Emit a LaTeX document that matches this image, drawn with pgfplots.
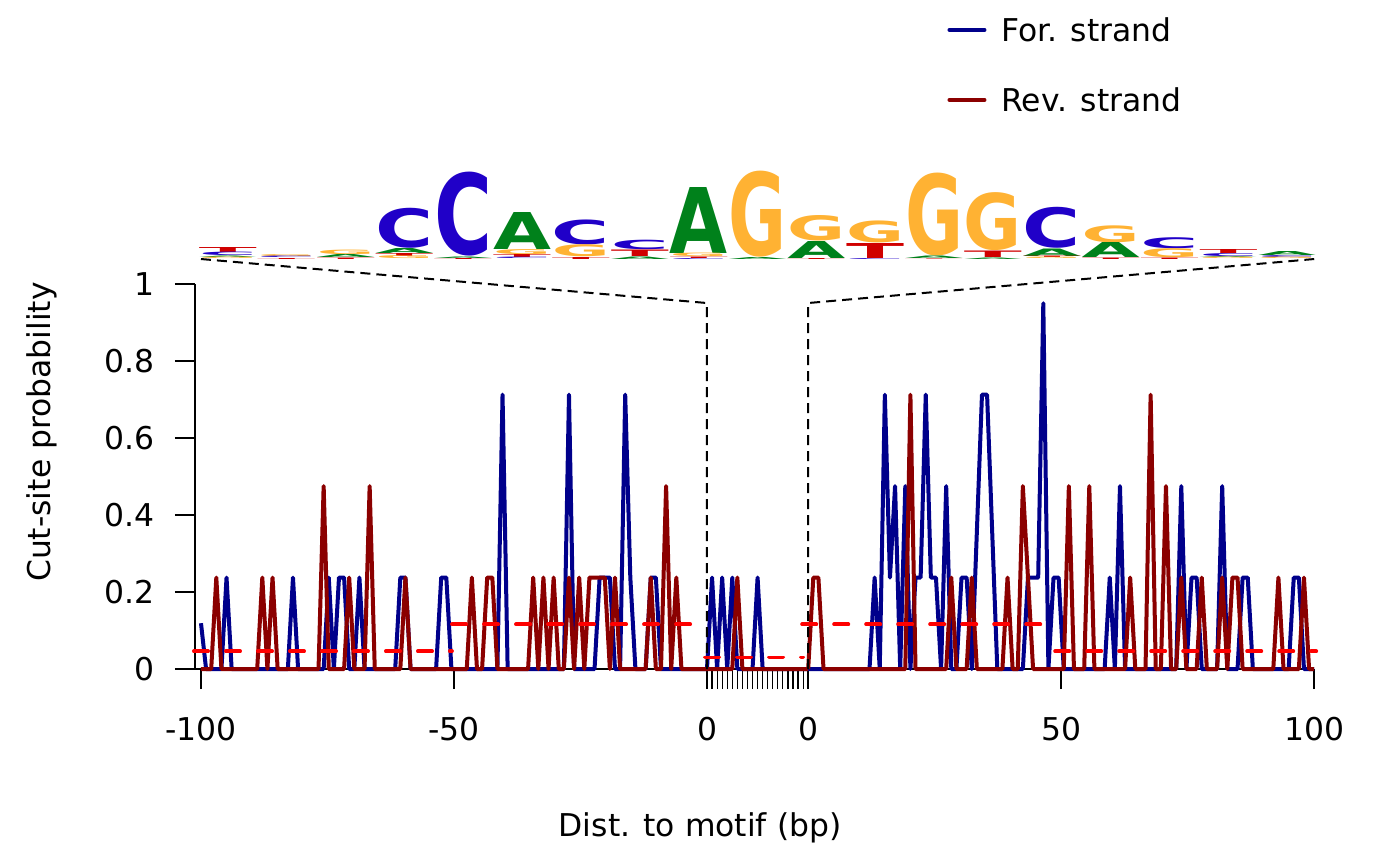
\documentclass[border=0pt]{standalone}
\usepackage{fontspec}
\setmainfont{DejaVu Sans}
\usepackage{graphicx}
\usepackage{pgfplots}
\usepackage{pgfplotstable}
\pgfplotsset{compat=1.18}
\definecolor{fwd}{RGB}{0,0,139}
\definecolor{rev}{RGB}{139,0,0}
\definecolor{meanred}{RGB}{255,0,0}
\definecolor{lA}{RGB}{0,129,27}
\definecolor{lC}{RGB}{32,0,200}
\definecolor{lG}{RGB}{255,178,51}
\definecolor{lT}{RGB}{208,0,0}
\newcommand{\lgl}[3]{\hbox{\resizebox*{29pt}{#2pt}{\textcolor{#1}{\bfseries #3}}}}
\newcommand{\lgA}[1]{\lgl{lA}{#1}{A}}
\newcommand{\lgC}[1]{\lgl{lC}{#1}{C}}
\newcommand{\lgG}[1]{\lgl{lG}{#1}{G}}
\newcommand{\lgT}[1]{\lgl{lT}{#1}{T}}
\newcommand{\logocol}[2]{\node[anchor=south, inner sep=0pt, outer sep=0pt] at (axis cs:#1,1.0649) {\vbox{\offinterlineskip #2}};}
\begin{document}
\pgfplotstableread{
i p
0 0.119
1 0
4 0
5 0.2375
6 0
17 0
18 0.2375
19 0
24 0
25 0.2375
26 0
27 0.2375
28 0.2375
29 0
30 0
31 0.2375
32 0
38 0
39 0.2375
40 0.2375
41 0
46 0
47 0.2375
48 0.2375
49 0
58 0
59 0.7125
60 0
71 0
72 0.7125
73 0
77 0
78 0.2375
79 0.2375
80 0.2375
81 0
82 0
83 0.7125
84 0.2375
85 0
87 0
88 0.2375
89 0.2375
90 0
99 0
}\blueL
\pgfplotstableread{
i p
0 0
2 0
3 0.2375
4 0
11 0
12 0.2375
13 0
14 0.2375
15 0
23 0
24 0.475
25 0
28 0
29 0.2375
30 0
32 0
33 0.475
34 0
39 0
40 0.2375
41 0
52 0
53 0.2375
54 0
55 0
56 0.2375
57 0.2375
58 0
64 0
65 0.2375
66 0
67 0.2375
68 0
69 0.2375
70 0
71 0
72 0.2375
73 0
74 0.2375
75 0
76 0.2375
77 0.2375
78 0.2375
79 0.2375
80 0
81 0.2375
82 0
87 0
88 0.2375
89 0
90 0
91 0.475
92 0
93 0.2375
94 0
99 0
}\redL
\pgfplotstableread{
i p
0 0
1 0.2375
2 0
3 0.2375
4 0
5 0.2375
6 0
9 0
10 0.2375
11 0
20 0
}\blueM
\pgfplotstableread{
i p
0 0
5 0
6 0.2375
7 0
20 0
}\redM
\pgfplotstableread{
i p
0 0
12 0
13 0.2375
14 0
15 0.7125
16 0.2375
17 0.475
18 0
19 0.475
20 0
21 0.2375
22 0.2375
23 0.7125
24 0.2375
25 0.2375
26 0
27 0.475
28 0
29 0
30 0.2375
31 0.2375
32 0
33 0.35625
34 0.7125
35 0.7125
36 0.35625
37 0
42 0
43 0.2375
44 0.2375
45 0.2375
46 0.95
47 0
48 0.2375
49 0.2375
50 0
58 0
59 0.2375
60 0
61 0.475
62 0
72 0
73 0.475
74 0
75 0.2375
76 0.2375
77 0
80 0
81 0.475
82 0
84 0
85 0.2375
86 0.2375
87 0
94 0
95 0.2375
96 0.2375
97 0
99 0
}\blueR
\pgfplotstableread{
i p
0 0
1 0.2375
2 0.2375
3 0
19 0
20 0.7125
21 0
27 0
28 0.2375
29 0
31 0
32 0.2375
33 0
38 0
39 0.2375
40 0
41 0
42 0.475
43 0.2375
44 0
50 0
51 0.475
52 0
54 0
55 0.475
56 0
62 0
63 0.2375
64 0
66 0
67 0.7125
68 0
69 0
70 0.475
71 0
72 0
73 0.2375
74 0
76 0
77 0.2375
78 0
80 0
81 0.2375
82 0
83 0.2375
84 0.2375
85 0
91 0
92 0.2375
93 0
96 0
97 0.2375
98 0
99 0
}\redR
\fontsize{15.7}{18.8}\selectfont
\begin{tikzpicture}
\begin{axis}[
  x=2.53pt, y=192.5pt,
  xmin=-1.186, xmax=220, ymin=0, ymax=1,
  clip=false,
  axis x line*=bottom, axis y line*=left,
  axis line style={line width=1pt, black},
  xtick={0,50,100,120,170,220},
  xticklabels={-100,-50,0,0,50,100},
  extra x ticks={101,102,103,104,105,106,107,108,109,110,111,112,113,114,115,116,117,118,119},
  extra x tick labels={},
  extra x tick style={tick style={line width=0.6pt}},
  ytick={0,0.2,0.4,0.6,0.8,1},
  yticklabels={0,0.2,0.4,0.6,0.8,1},
  /pgf/number format/assume math mode=true,
  tick align=outside, major tick length=10pt,
  tick style={black, line width=0.9pt},
  xticklabel style={anchor=north, inner sep=0pt, yshift=-13.75pt},
  yticklabel style={anchor=east, inner sep=0pt, xshift=-10.25pt},
  xlabel={Dist. to motif (bp)},
  xlabel style={at={(axis description cs:0.4513,-0.413)}, anchor=center, inner sep=0pt},
  ylabel={Cut-site probability},
  ylabel style={at={(axis description cs:-0.1367,0.6156)}, anchor=center, inner sep=0pt},
  legend style={at={(axis description cs:0.672,1.691)}, anchor=north west, draw=none, fill=none,
    inner sep=0pt, row sep=23.5pt, column sep=7.5pt,
    nodes={inner sep=0pt, text height=11.5pt, text depth=0pt}},
  legend cell align=left,
  legend image code/.code={\draw[#1, line cap=round] (0pt,0pt) -- (17.5pt,0pt);},
]
\addplot[fwd, line width=2pt, line join=round] table[x expr=\thisrow{i}*100/99, y=p] {\blueL};
\addlegendentry{For. strand}
\addplot[fwd, line width=2pt, line join=round, forget plot] table[x expr=100+\thisrow{i}, y=p] {\blueM};
\addplot[fwd, line width=2pt, line join=round, forget plot] table[x expr=120+\thisrow{i}*100/99, y=p] {\blueR};
\addplot[rev, line width=2pt, line join=round] table[x expr=\thisrow{i}*100/99, y=p] {\redL};
\addlegendentry{Rev. strand}
\addplot[rev, line width=2pt, line join=round, forget plot] table[x expr=100+\thisrow{i}, y=p] {\redM};
\addplot[rev, line width=2pt, line join=round, forget plot] table[x expr=120+\thisrow{i}*100/99, y=p] {\redR};
% mean levels
\addplot[meanred, line width=1.9pt, line cap=round, dash pattern=on 7.1pt off 8.9pt, forget plot] coordinates {(-1.4,0.046) (49.6,0.046)};
\addplot[meanred, line width=1.9pt, line cap=round, dash pattern=on 7.1pt off 8.9pt, forget plot] coordinates {(49.6,0.116) (99.6,0.116)};
\addplot[meanred, line width=1.9pt, line cap=round, dash pattern=on 7.1pt off 8.9pt, forget plot] coordinates {(99.6,0.030) (119.0,0.030)};
\addplot[meanred, line width=1.9pt, line cap=round, dash pattern=on 7.1pt off 8.9pt, forget plot] coordinates {(118.8,0.116) (167.8,0.116)};
\addplot[meanred, line width=1.9pt, line cap=round, dash pattern=on 7.1pt off 8.9pt, forget plot] coordinates {(168.8,0.046) (220.4,0.046)};
% connectors
\addplot[black, line width=1pt, dash pattern=on 5pt off 3pt, forget plot] coordinates {(0,1.0649) (100,0.9506) (100,0)};
\addplot[black, line width=1pt, dash pattern=on 5pt off 3pt, forget plot] coordinates {(120,0) (120,0.9506) (220,1.0649)};
% sequence logo
\logocol{5.315}{\lgT{2.5}\lgC{1.75}\lgA{0.75}\lgG{0.75}}
\logocol{16.945}{\lgG{1}\lgC{0.75}\lgT{0.5}}
\logocol{28.575}{\lgG{2.25}\lgA{1.5}\lgT{0.75}}
\logocol{40.205}{\lgC{20}\lgA{2.5}\lgT{1.5}\lgG{1.5}}
\logocol{51.835}{\lgC{42}\lgA{0.75}\lgT{0.5}}
\logocol{63.465}{\lgA{18.5}\lgG{2.5}\lgT{1.5}\lgC{0.75}}
\logocol{75.095}{\lgC{12.5}\lgG{6}\lgT{1}}
\logocol{86.725}{\lgC{4.75}\lgT{3.25}\lgA{1.25}}
\logocol{98.355}{\lgA{33}\lgG{1.75}\lgT{0.75}\lgC{0.5}}
\logocol{109.985}{\lgG{43}\lgA{1}}
\logocol{121.615}{\lgG{12.75}\lgA{8.5}\lgT{0.5}}
\logocol{133.245}{\lgG{11}\lgT{7.5}\lgC{0.5}}
\logocol{144.875}{\lgG{41.5}\lgA{1.25}\lgT{0.25}}
\logocol{156.505}{\lgG{29}\lgT{3.25}\lgA{0.75}}
\logocol{168.135}{\lgC{20.5}\lgA{3.75}\lgT{0.75}\lgG{0.75}}
\logocol{179.765}{\lgG{8.5}\lgA{7.5}\lgT{0.75}}
\logocol{191.395}{\lgC{5.5}\lgG{4.5}\lgT{0.75}}
\logocol{203.025}{\lgT{2}\lgC{1.5}\lgA{0.5}\lgG{0.75}}
\logocol{214.655}{\lgA{2}\lgC{1}\lgG{0.75}}
\coordinate (bbA) at (axis cs:-39.72,-0.5117);
\coordinate (bbB) at (axis cs:236.96,1.7377);
\end{axis}
\pgfresetboundingbox
\path[use as bounding box] (bbA) rectangle (bbB);
\end{tikzpicture}
\end{document}
